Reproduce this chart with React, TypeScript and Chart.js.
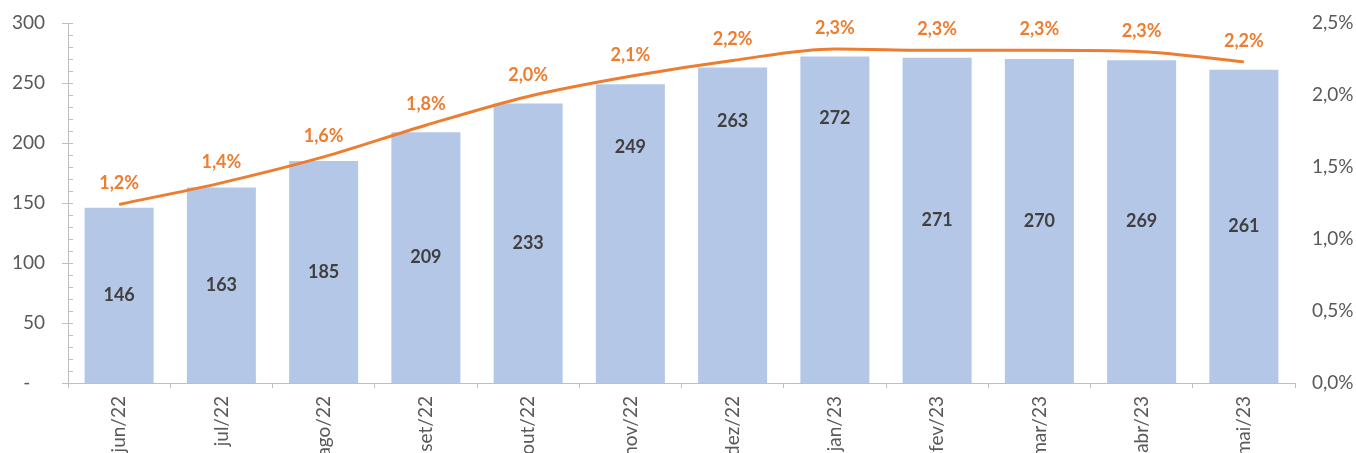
import React, { useEffect, useRef } from "react";
import { Chart, registerables } from "chart.js";

Chart.register(...registerables);

const categories = ["jun/22", "jul/22", "ago/22", "set/22", "out/22", "nov/22", "dez/22", "jan/23", "fev/23", "mar/23", "abr/23", "mai/23"];
const barValues = [146, 163, 185, 209, 233, 249, 263, 272, 271, 270, 269, 261];
const rateValues = [1.24, 1.39, 1.57, 1.79, 1.99, 2.13, 2.24, 2.32, 2.31, 2.31, 2.3, 2.23];
const leftTicks = [0, 50, 100, 150, 200, 250, 300];
const rightTicks = [0, 0.5, 1.0, 1.5, 2.0, 2.5];

// vertical anchor of each bar label, as a fraction of the bar height
const barLabelAnchor = [0.5, 0.5, 0.5, 0.5, 0.5, 0.79, 0.83, 0.81, 0.5, 0.5, 0.5, 0.5];

const FONT = "Lato, 'Open Sans', sans-serif";
const fmtPct = (v: number) => v.toFixed(1).replace(".", ",") + "%";

const overlayPlugin = {
  id: "overlay",
  afterDatasetsDraw(chart: any) {
    const ctx = chart.ctx;
    const y = chart.scales.y;
    const axisX = y.right;
    ctx.save();
    ctx.strokeStyle = "#BFBFBF";
    ctx.lineWidth = 1;
    for (let v = 0; v <= 300; v += 10) {
      const py = Math.round(y.getPixelForValue(v)) + 0.5;
      const major = v % 50 === 0;
      ctx.beginPath();
      ctx.moveTo(major ? axisX - 6 : axisX, py);
      ctx.lineTo(axisX + 5, py);
      ctx.stroke();
    }
    const barMeta = chart.getDatasetMeta(0);
    ctx.font = "bold 18px " + FONT;
    ctx.fillStyle = "#404040";
    ctx.textAlign = "center";
    ctx.textBaseline = "middle";
    barMeta.data.forEach((el: any, i: number) => {
      const v = barValues[i];
      const py = y.getPixelForValue(v * barLabelAnchor[i]);
      ctx.fillText(String(v), el.x, py);
    });
    const lineMeta = chart.getDatasetMeta(1);
    ctx.fillStyle = "#ED7D31";
    lineMeta.data.forEach((el: any, i: number) => {
      ctx.fillText(fmtPct(rateValues[i]), el.x, el.y - 21);
    });
    ctx.restore();
  },
};

export default function App() {
  const ref = useRef<HTMLCanvasElement>(null);
  useEffect(() => {
    if (!ref.current) return;
    const chart = new Chart(ref.current, {
      type: "bar",
      data: {
        labels: categories,
        datasets: [
          {
            type: "bar",
            data: barValues,
            backgroundColor: "#B4C7E7",
            categoryPercentage: 1,
            barPercentage: 0.675,
            yAxisID: "y",
            order: 2,
          },
          {
            type: "line",
            data: rateValues,
            borderColor: "#ED7D31",
            borderWidth: 3,
            pointRadius: 0,
            cubicInterpolationMode: "monotone",
            yAxisID: "y1",
            order: 1,
          } as any,
        ],
      },
      options: {
        responsive: false,
        animation: false,
        layout: { padding: { top: 23, left: 0, right: 0, bottom: 0 } },
        plugins: { legend: { display: false }, tooltip: { enabled: false } },
        scales: {
          x: {
            grid: { display: true, drawOnChartArea: false, offset: true, tickLength: 5, color: "#BFBFBF" },
            border: { display: true, color: "#BFBFBF", width: 1 },
            ticks: { minRotation: 90, maxRotation: 90, padding: 8, color: "#595959", font: { family: FONT, size: 19 } },
            afterFit: (s: any) => { s.height = 70; },
          },
          y: {
            position: "left",
            min: 0,
            max: 300,
            afterBuildTicks: (s: any) => { s.ticks = leftTicks.map((v) => ({ value: v })); },
            grid: { display: false, drawTicks: true, tickLength: 23 },
            border: { display: true, color: "#BFBFBF", width: 1 },
            ticks: {
              padding: 0,
              color: "#595959",
              font: { family: FONT, size: 19 },
              callback: (v: any) => (v === 0 ? "-   " : String(v)),
            },
            afterFit: (s: any) => { s.width = 68; },
          },
          y1: {
            position: "right",
            min: 0,
            max: 2.5,
            afterBuildTicks: (s: any) => { s.ticks = rightTicks.map((v) => ({ value: v })); },
            grid: { display: false, drawTicks: true, tickLength: 17 },
            border: { display: false },
            ticks: {
              padding: 0,
              color: "#595959",
              font: { family: FONT, size: 19 },
              callback: (v: any) => fmtPct(Number(v)),
            },
            afterFit: (s: any) => { s.width = 61; },
          },
        },
      },
      plugins: [overlayPlugin],
    });
    return () => chart.destroy();
  }, []);
  return (
    <div style={{ position: "fixed", left: 0, top: 0, width: 1356, height: 453, background: "#fff" }}>
      <canvas ref={ref} width={1356} height={453} style={{ width: 1356, height: 453 }} />
    </div>
  );
}
